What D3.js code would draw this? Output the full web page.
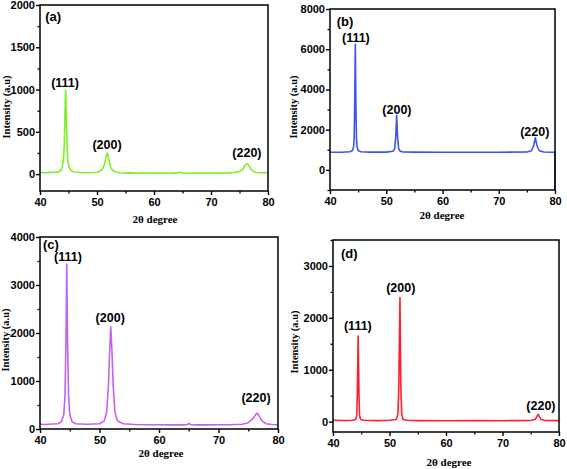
<!DOCTYPE html>
<html><head><meta charset="utf-8">
<script src="https://cdn.jsdelivr.net/npm/d3@7"></script>
<style>body{margin:0;background:#fff}svg{display:block}</style>
</head><body>
<svg id="c" width="567" height="469"></svg>
<script>
// ---- data ----
const angleA = [40,41,42,43,43.6,43.9,44.1,44.25,44.35,44.45,44.5,44.55,44.65,44.75,44.9,45.1,45.5,46,47,48,49,50,50.8,51.2,51.5,51.7,51.8,51.9,52.1,52.4,52.8,53.5,54,55,56,57,58,59,60,61,62,63,64,64.5,65,66,67,68,69,70,71,72,73,74,75,75.6,76,76.3,76.6,77,77.5,78,79,80];
const intensityA = [18,15,20,22,40,80,170,330,600,900,990,880,580,320,150,75,40,25,18,16,18,22,45,90,170,235,250,235,160,80,40,22,16,12,14,10,12,10,12,10,12,10,14,22,12,10,12,10,12,10,12,10,14,18,30,60,105,125,105,55,28,18,15,16];

const angleB = [40,42,43.5,44,44.2,44.3,44.4,44.5,44.6,44.7,44.8,45,45.5,47,50,51.2,51.5,51.7,51.85,52,52.2,52.5,53,55,60,65,70,75,75.8,76.2,76.5,76.8,77.2,78,80,80];
const intensityB = [880,880,900,960,1150,1600,3400,6250,3400,1600,1150,960,900,885,885,930,1050,1700,2700,1700,1050,930,895,882,880,880,880,890,950,1200,1600,1200,950,890,880,-1000];

const angleC = [40,41,42,43,43.6,44,44.2,44.35,44.5,44.65,44.8,45,45.4,46,48,50,50.8,51.2,51.5,51.7,51.9,52.1,52.3,52.6,53,54,56,58,60,62,64,64.8,65,65.3,66,68,70,72,74,75,75.8,76.3,76.5,76.8,77.3,78,79,80];
const intensityC = [100,95,105,110,150,300,700,1700,3430,1700,700,300,150,110,100,110,170,350,900,1600,2130,1600,900,350,170,110,95,90,90,85,85,95,115,95,85,85,88,90,100,130,220,310,330,280,170,110,95,90];

const angleD = [40,42,43.5,44,44.2,44.3,44.45,44.6,44.7,44.9,45.5,48,50,51.2,51.5,51.65,51.85,52,52.15,52.4,53,55,60,65,70,75,75.8,76.1,76.3,76.5,76.8,77.5,80];
const intensityD = [25,22,25,40,120,500,1650,500,120,40,25,20,25,40,150,700,2390,700,150,40,25,20,18,20,18,22,45,100,141,100,45,22,20];

const xTicks = [40,50,60,70,80];
const yTicksA = [0,500,1000,1500,2000];
const yTicksB = [0,2000,4000,6000,8000];
const yTicksC = [0,1000,2000,3000,4000];
const yTicksD = [0,1000,2000,3000];

const peakNames = ["(111)","(200)","(220)"];
const labelAngleA = [44.4,51.75,76.3], labelValA = [1036,298,202];
const labelAngleB = [44.6,51.9,76.4], labelValB = [6365,2785,1690];
const labelAngleC = [44.7,51.8,76.3], labelValC = [3500,2230,560];
const labelAngleD = [44.4,52.0,76.8], labelValD = [1770,2500,225];

const panels = [
  {tag:"(a)", tagX:40.9, tagY:1810, xs:angleA, ys:intensityA, yTicks:yTicksA, minorStep:250, yDom:[-200,2000],
   box:[40,268,5,191], color:"#7cf022", lx:labelAngleA, ly:labelValA, ytX:10, ytY:107, xtX:155, xtY:223},
  {tag:"(b)", tagX:41.2, tagY:7160, xs:angleB, ys:intensityB, yTicks:yTicksB, minorStep:1000, yDom:[-1000,8000],
   box:[330,555,9,190], color:"#3b55e8", lx:labelAngleB, ly:labelValB, ytX:297, ytY:107, xtX:442, xtY:219},
  {tag:"(c)", tagX:40.5, tagY:3750, xs:angleC, ys:intensityC, yTicks:yTicksC, minorStep:500, yDom:[0,4000],
   box:[40,278,237,429], color:"#c462ee", lx:labelAngleC, ly:labelValC, ytX:9, ytY:340, xtX:161, xtY:457},
  {tag:"(d)", tagX:41.4, tagY:3160, xs:angleD, ys:intensityD, yTicks:yTicksD, minorStep:500, yDom:[-200,3500],
   box:[333,559,240,432], color:"#ff1e2e", lx:labelAngleD, ly:labelValD, ytX:298, ytY:342, xtX:449, xtY:466}
];

const svg = d3.select("#c");
const sans = "'Liberation Sans', Arial, sans-serif";
const serif = "'Liberation Serif', 'Times New Roman', serif";

panels.forEach(p => {
  const [L,R,T,B] = p.box;
  const x = d3.scaleLinear().domain([40,80]).range([L,R]);
  const y = d3.scaleLinear().domain(p.yDom).range([B,T]);
  const g = svg.append("g");

  // data line
  const pts = p.xs.map((a,i)=>[a,p.ys[i]]);
  g.append("path").datum(pts)
    .attr("fill","none").attr("stroke",p.color).attr("stroke-width",1.6).attr("stroke-linejoin","round")
    .attr("d", d3.line().x(d=>x(d[0])).y(d=>y(d[1])));

  // minor ticks
  const minorX = d3.range(45,80,10);
  const minorY = d3.range(Math.ceil(p.yDom[0]/p.minorStep)*p.minorStep, p.yDom[1]+1, p.minorStep).filter(v=>!p.yTicks.includes(v));
  g.append("g").attr("transform",`translate(0,${B})`)
    .call(d3.axisBottom(x).tickValues(minorX).tickSize(2.5).tickFormat(""))
    .call(s=>s.select(".domain").remove()).selectAll("line").attr("stroke","#000").attr("stroke-width",1.3);
  g.append("g").attr("transform",`translate(${L},0)`)
    .call(d3.axisLeft(y).tickValues(minorY).tickSize(2.5).tickFormat(""))
    .call(s=>s.select(".domain").remove()).selectAll("line").attr("stroke","#000").attr("stroke-width",1.3);

  // major axes
  const ax = g.append("g").attr("transform",`translate(0,${B})`)
    .call(d3.axisBottom(x).tickValues(xTicks).tickSize(4).tickPadding(3).tickFormat(d3.format("d")));
  const ay = g.append("g").attr("transform",`translate(${L},0)`)
    .call(d3.axisLeft(y).tickValues(p.yTicks).tickSize(4).tickPadding(1).tickFormat(d3.format("d")));
  [ax,ay].forEach(a=>{
    a.select(".domain").remove();
    a.selectAll("line").attr("stroke","#000").attr("stroke-width",1.4);
    a.selectAll("text").attr("font-family",sans).attr("font-weight","bold").attr("font-size",11).attr("fill","#000");
  });

  // frame
  g.append("rect").attr("x",L).attr("y",T).attr("width",R-L).attr("height",B-T)
    .attr("fill","none").attr("stroke","#000").attr("stroke-width",1.5);

  // titles
  g.append("text").attr("x",p.xtX).attr("y",p.xtY).attr("text-anchor","middle")
    .attr("font-family",serif).attr("font-weight","bold").attr("font-size",11).text("2θ degree");
  g.append("text").attr("transform",`translate(${p.ytX},${p.ytY}) rotate(-90)`).attr("text-anchor","middle")
    .attr("font-family",serif).attr("font-weight","bold").attr("font-size",10.5).text("Intensity (a.u)");

  // panel tag
  g.append("text").attr("x",x(p.tagX)).attr("y",y(p.tagY))
    .attr("font-family",sans).attr("font-weight","bold").attr("font-size",13).text(p.tag);

  // peak labels
  peakNames.forEach((n,i)=>{
    g.append("text").attr("x",x(p.lx[i])).attr("y",y(p.ly[i])).attr("text-anchor","middle")
      .attr("font-family",sans).attr("font-weight","bold").attr("font-size",12.5).text(n);
  });
});
</script>
</body></html>
